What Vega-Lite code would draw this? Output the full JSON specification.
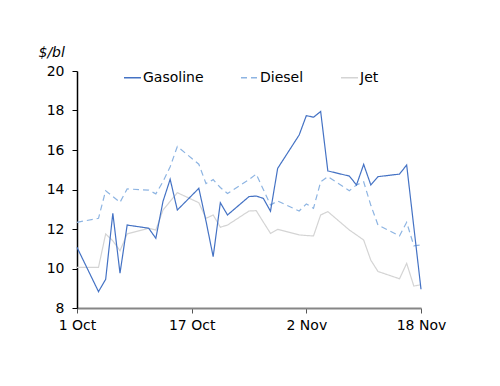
{
  "$schema": "https://vega.github.io/schema/vega-lite/v6.json",
  "width": 344,
  "height": 237,
  "autosize": "none",
  "padding": {"left": 77, "top": 71, "right": 79, "bottom": 78},
  "background": "white",
  "config": {
    "view": {"stroke": null},
    "font": "DejaVu Sans"
  },
  "data": {"values": [
    {"date": "2021-10-01", "G": 11.07, "D": 12.34, "J": 10.06},
    {"date": "2021-10-04", "G": 8.83, "D": 12.54, "J": 10.06},
    {"date": "2021-10-05", "G": 9.45, "D": 13.94, "J": 11.75},
    {"date": "2021-10-06", "G": 12.8, "D": 13.65, "J": 11.4},
    {"date": "2021-10-07", "G": 9.76, "D": 13.35, "J": 10.9},
    {"date": "2021-10-08", "G": 12.2, "D": 14.03, "J": 11.75},
    {"date": "2021-10-11", "G": 12.04, "D": 13.97, "J": 12.04},
    {"date": "2021-10-12", "G": 11.53, "D": 13.78, "J": 11.95},
    {"date": "2021-10-13", "G": 13.4, "D": 14.4, "J": 12.96},
    {"date": "2021-10-14", "G": 14.52, "D": 15.15, "J": 13.4},
    {"date": "2021-10-15", "G": 12.96, "D": 16.18, "J": 13.84},
    {"date": "2021-10-18", "G": 14.06, "D": 15.28, "J": 13.33},
    {"date": "2021-10-19", "G": 12.4, "D": 14.3, "J": 12.54},
    {"date": "2021-10-20", "G": 10.6, "D": 14.5, "J": 12.71},
    {"date": "2021-10-21", "G": 13.33, "D": 14.1, "J": 12.09},
    {"date": "2021-10-22", "G": 12.71, "D": 13.8, "J": 12.2},
    {"date": "2021-10-25", "G": 13.64, "D": 14.5, "J": 12.91},
    {"date": "2021-10-26", "G": 13.67, "D": 14.78, "J": 12.93},
    {"date": "2021-10-27", "G": 13.55, "D": 14.0, "J": 12.35},
    {"date": "2021-10-28", "G": 12.9, "D": 13.22, "J": 11.78},
    {"date": "2021-10-29", "G": 15.07, "D": 13.42, "J": 11.98},
    {"date": "2021-11-01", "G": 16.76, "D": 12.91, "J": 11.7},
    {"date": "2021-11-02", "G": 17.74, "D": 13.27, "J": 11.67},
    {"date": "2021-11-03", "G": 17.66, "D": 13.05, "J": 11.65},
    {"date": "2021-11-04", "G": 17.95, "D": 14.39, "J": 12.71},
    {"date": "2021-11-05", "G": 14.94, "D": 14.65, "J": 12.88},
    {"date": "2021-11-08", "G": 14.68, "D": 13.94, "J": 11.95},
    {"date": "2021-11-09", "G": 14.23, "D": 14.23, "J": 11.7},
    {"date": "2021-11-10", "G": 15.27, "D": 14.39, "J": 11.44},
    {"date": "2021-11-11", "G": 14.23, "D": 13.2, "J": 10.42},
    {"date": "2021-11-12", "G": 14.65, "D": 12.2, "J": 9.85},
    {"date": "2021-11-15", "G": 14.78, "D": 11.65, "J": 9.48},
    {"date": "2021-11-16", "G": 15.24, "D": 12.34, "J": 10.26},
    {"date": "2021-11-17", "G": 12.1, "D": 11.15, "J": 9.11},
    {"date": "2021-11-18", "G": 8.95, "D": 11.19, "J": 9.18}
  ]},
  "transform": [
    {"fold": ["J", "D", "G"], "as": ["key", "value"]},
    {"lookup": "key", "from": {"data": {"values": [
      {"key": "G", "series": "Gasoline", "ord": 3},
      {"key": "D", "series": "Diesel", "ord": 2},
      {"key": "J", "series": "Jet", "ord": 1}
    ]}, "key": "key", "fields": ["series", "ord"]}}
  ],
  "mark": {"type": "line", "strokeWidth": 1.2, "interpolate": "linear"},
  "encoding": {
    "x": {
      "field": "date", "type": "temporal",
      "scale": {"type": "utc", "domain": [{"year": 2021, "month": 10, "date": 1, "utc": true}, {"year": 2021, "month": 11, "date": 18, "utc": true}]},
      "axis": {
        "title": null,
        "values": [
          {"year": 2021, "month": 10, "date": 1, "utc": true},
          {"year": 2021, "month": 10, "date": 17, "utc": true},
          {"year": 2021, "month": 11, "date": 2, "utc": true},
          {"year": 2021, "month": 11, "date": 18, "utc": true}
        ],
        "labelExpr": "utcFormat(datum.value, '%-d %b')",
        "grid": false,
        "domainColor": "#868686",
        "domainWidth": 2,
        "tickColor": "#555555",
        "tickSize": 5,
        "tickWidth": 1,
        "labelFontSize": 14,
        "labelColor": "#000000",
        "labelPadding": 5,
        "labelFlush": false
      }
    },
    "y": {
      "field": "value", "type": "quantitative",
      "scale": {"domain": [8, 20], "nice": false, "zero": false},
      "axis": {
        "title": "$/bl",
        "titleAngle": 0,
        "titleFontStyle": "italic",
        "titleFontWeight": "normal",
        "titleFontSize": 14,
        "titleColor": "#000000",
        "titleX": -39,
        "titleY": -15,
        "titleAlign": "left",
        "titleBaseline": "alphabetic",
        "values": [8, 10, 12, 14, 16, 18, 20],
        "grid": false,
        "domainColor": "#000000",
        "domainWidth": 1.5,
        "tickColor": "#000000",
        "tickSize": 5,
        "labelFontSize": 14,
        "labelColor": "#000000",
        "labelPadding": 8
      }
    },
    "color": {
      "field": "series", "type": "nominal",
      "scale": {"domain": ["Gasoline", "Diesel", "Jet"], "range": ["#4472C4", "#8DB4E2", "#D4D4D4"]},
      "legend": {
        "title": null,
        "orient": "none",
        "legendX": 46,
        "legendY": -3,
        "direction": "horizontal",
        "symbolType": "stroke",
        "symbolSize": 289,
        "symbolStrokeWidth": 1.5,
        "labelFontSize": 14,
        "labelColor": "#000000",
        "labelOffset": 1,
        "columnPadding": 34
      }
    },
    "strokeDash": {
      "field": "series", "type": "nominal",
      "scale": {"domain": ["Gasoline", "Diesel", "Jet"], "range": [[1, 0], [6, 4], [1, 0]]},
      "legend": {
        "title": null,
        "orient": "none",
        "legendX": 46,
        "legendY": -3,
        "direction": "horizontal",
        "symbolType": "stroke",
        "symbolSize": 289,
        "symbolStrokeWidth": 1.5,
        "labelFontSize": 14,
        "labelColor": "#000000",
        "labelOffset": 1,
        "columnPadding": 34
      }
    },
    "order": {"field": "ord"}
  }
}
